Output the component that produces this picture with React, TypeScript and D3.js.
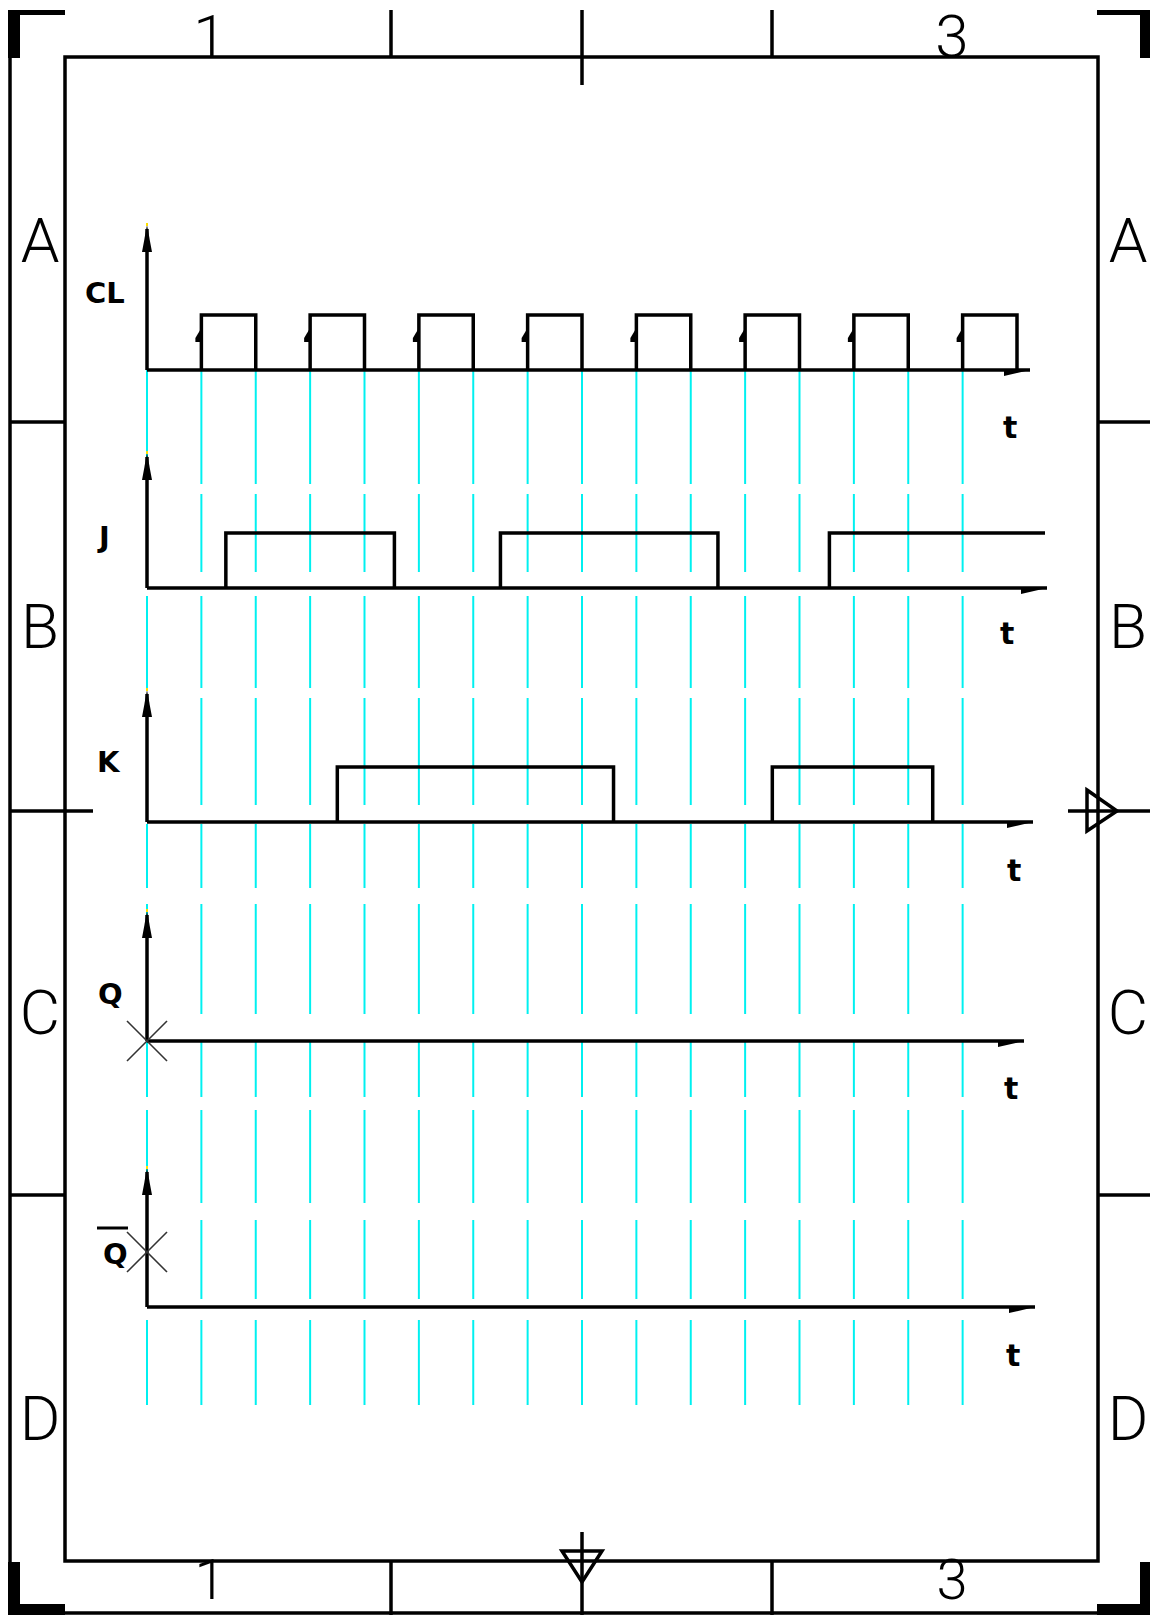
import React from 'react';
import * as d3 from 'd3';

// ---- data ----
const gridSteps = [0, 1, 2, 3, 4, 5, 6, 7, 8, 9, 10, 11, 12, 13, 14, 15];
const clockHigh: [number, number | null][] = [[1, 2], [3, 4], [5, 6], [7, 8], [9, 10], [11, 12], [13, 14], [15, 16]];
const jHigh: [number, number | null][] = [[1.45, 4.55], [6.5, 10.5], [12.55, null]];
const kHigh: [number, number | null][] = [[3.5, 8.58], [11.5, 14.45]];
const qHigh: [number, number | null][] = [];
const qBarHigh: [number, number | null][] = [];
const signalLabels = ['CL', 'J', 'K', 'Q', 'Q'];
const zoneLetters = ['A', 'B', 'C', 'D'];
const columnNumbers = ['1', '3'];
const axisLabel = 't';

const W = 1150;
const H = 1615;

export default function App() {
  const x = d3.scaleLinear().domain([0, 16]).range([147, 1017]);

  const panels = [
    { label: signalLabels[0], data: clockHigh, base: 370, high: 315, top: 225, end: 1030, lx: 85, ly: 303, tx: 1003, ty: 438, arrows: true, cross: null as number | null, bar: false },
    { label: signalLabels[1], data: jHigh, base: 588, high: 533, top: 453, end: 1047, lx: 99, ly: 547, tx: 1000, ty: 644, arrows: false, cross: null, bar: false },
    { label: signalLabels[2], data: kHigh, base: 822, high: 767, top: 690, end: 1033, lx: 97, ly: 772, tx: 1007, ty: 881, arrows: false, cross: null, bar: false },
    { label: signalLabels[3], data: qHigh, base: 1041, high: 986, top: 911, end: 1024, lx: 98, ly: 1004, tx: 1004, ty: 1099, arrows: false, cross: 1041, bar: false },
    { label: signalLabels[4], data: qBarHigh, base: 1307, high: 1252, top: 1168, end: 1035, lx: 103, ly: 1264, tx: 1006, ty: 1366, arrows: false, cross: 1252, bar: true },
  ];

  const line = d3.line<[number, number]>().x((d) => d[0]).y((d) => d[1]);

  const pulsePaths = (p: typeof panels[number]) =>
    p.data.map(([a, b]) => {
      const xa = x(a);
      const xb = b === null ? p.end - 2 : x(b);
      const pts: [number, number][] = [[xa, p.base], [xa, p.high], [xb, p.high]];
      if (b !== null) pts.push([xb, p.base]);
      return line(pts) as string;
    });

  // cyan guide segments (dashed construction lines)
  const cyanSegs: [number, number][] = [
    [370, 484], [494, 572], [596, 688], [698, 805], [824, 888], [904, 1014], [1040, 1097], [1110, 1203], [1220, 1299], [1320, 1405],
  ];

  const stroke = '#000';
  const labelFont = "'DejaVu Sans', 'Liberation Sans', sans-serif";
  const bigFont = "Roboto, 'Liberation Sans', sans-serif";

  const topTicks = [391, 582, 772];
  const rowSeps = [422, 811, 1195];
  const zoneY = [262, 648, 1034, 1440];

  return (
    <svg width={W} height={H} viewBox={`0 0 ${W} ${H}`} style={{ position: 'absolute', left: 0, top: 0, display: 'block', background: '#fff' }}>
      <rect x={0} y={0} width={W} height={H} fill="#fff" />

      {/* cyan guide lines */}
      <g stroke="#00f0f0" strokeWidth={2}>
        {gridSteps.map((g) =>
          cyanSegs.map(([y0, y1], k) => <line key={`${g}-${k}`} x1={x(g)} x2={x(g)} y1={y0} y2={y1} />)
        )}
      </g>

      {/* border frame */}
      <g stroke={stroke} fill="none" strokeWidth={3.5}>
        <line x1={10} y1={10} x2={10} y2={1613} />
        <line x1={10} y1={1613} x2={1150} y2={1613} />
        <rect x={65} y={57} width={1033} height={1504} />
        {topTicks.map((t, i) => (
          <line key={`tt${i}`} x1={t} x2={t} y1={10} y2={i === 1 ? 85 : 57} />
        ))}
        {topTicks.map((t, i) => (
          <line key={`bt${i}`} x1={t} x2={t} y1={i === 1 ? 1532 : 1561} y2={1615} />
        ))}
        {rowSeps.map((r, i) => (
          <g key={`rs${i}`}>
            <line x1={10} x2={i === 1 ? 93 : 65} y1={r} y2={r} />
            <line x1={i === 1 ? 1068 : 1098} x2={1150} y1={r} y2={r} />
          </g>
        ))}
        <path d="M1087,790 L1117,811 L1087,831 Z" />
        <path d="M562,1551 L602,1551 L582,1582 Z" />
      </g>
      {/* corner brackets */}
      <g fill={stroke}>
        <rect x={8} y={10} width={57} height={5} />
        <rect x={8} y={10} width={12} height={48} />
        <rect x={8} y={1604} width={57} height={11} />
        <rect x={8} y={1562} width={12} height={53} />
        <rect x={1097} y={10} width={53} height={5} />
        <rect x={1140} y={10} width={10} height={48} />
        <rect x={1097} y={1604} width={53} height={11} />
        <rect x={1140} y={1562} width={10} height={53} />
      </g>

      {/* column numbers */}
      <g fontFamily={bigFont} fontWeight={300} fill={stroke} textAnchor="middle">
        <text x={210} y={57} fontSize={60}>{columnNumbers[0]}</text>
        <text x={952} y={57} fontSize={60}>{columnNumbers[1]}</text>
        <text x={210} y={1599} fontSize={56}>{columnNumbers[0]}</text>
        <text x={952} y={1599} fontSize={56}>{columnNumbers[1]}</text>
      </g>
      {/* zone letters */}
      <g fontFamily={bigFont} fontWeight={300} fontSize={62} fill={stroke} textAnchor="middle">
        {zoneLetters.map((z, i) => (
          <g key={z}>
            <text x={40} y={zoneY[i]}>{z}</text>
            <text x={1128} y={zoneY[i]}>{z}</text>
          </g>
        ))}
      </g>

      {/* timing panels */}
      {panels.map((p, pi) => (
        <g key={pi}>
          <line x1={x(0)} x2={x(0)} y1={p.base} y2={p.top + 4} stroke={stroke} strokeWidth={3.5} />
          <path d={`M${x(0)},${p.top} L${x(0) + 5},${p.top + 27} L${x(0) - 5},${p.top + 27} Z`} fill={stroke} />
          <rect x={x(0) - 1} y={p.top - 2} width={2} height={3} fill="#ffe000" />
          <line x1={x(0)} x2={p.end} y1={p.base} y2={p.base} stroke={stroke} strokeWidth={3.5} />
          <path d={`M${p.end},${p.base} L${p.end - 26},${p.base + 6} L${p.end - 26},${p.base - 1} Z`} fill={stroke} />
          {pulsePaths(p).map((d, k) => (
            <path key={k} d={d} fill="none" stroke={stroke} strokeWidth={3.5} strokeLinejoin="miter" />
          ))}
          {p.arrows &&
            p.data.map(([a], k) => (
              <path key={`ar${k}`} d={`M${x(a)},${p.base - 42} L${x(a) - 6},${p.base - 32} L${x(a) - 6},${p.base - 28} L${x(a)},${p.base - 28} Z`} fill={stroke} />
            ))}
          {p.cross !== null && (
            <g stroke="#333" strokeWidth={1.6}>
              <line x1={x(0) - 20} x2={x(0) + 20} y1={p.cross - 20} y2={p.cross + 20} />
              <line x1={x(0) - 20} x2={x(0) + 20} y1={p.cross + 20} y2={p.cross - 20} />
            </g>
          )}
          <text x={p.lx} y={p.ly} fontFamily={labelFont} fontWeight="bold" fontSize={29} fill={stroke}>{p.label}</text>
          {p.bar && <line x1={97} x2={128} y1={1228} y2={1228} stroke={stroke} strokeWidth={3} />}
          <text x={p.tx} y={p.ty} fontFamily={labelFont} fontWeight="bold" fontSize={30} fill={stroke}>{axisLabel}</text>
        </g>
      ))}
    </svg>
  );
}
